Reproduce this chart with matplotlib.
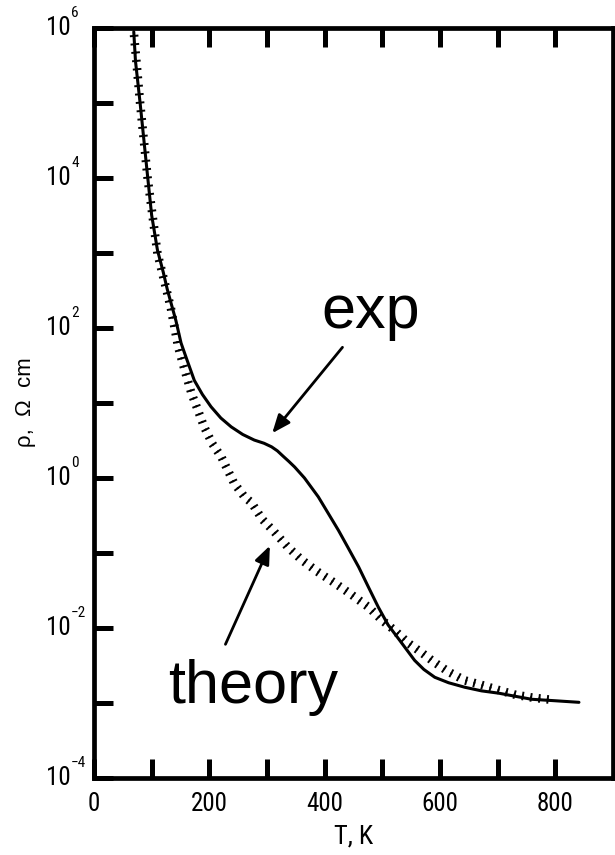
import numpy as np
import matplotlib
matplotlib.use("Agg")
import matplotlib.pyplot as plt
from matplotlib import patheffects, font_manager
from matplotlib.font_manager import FontProperties
from matplotlib.ticker import FixedLocator, NullFormatter, NullLocator

# resistivity vs temperature, measured and calculated
T_exp = [69, 72, 80, 93, 100, 110, 120, 127, 134, 142, 151, 160, 174, 188,
         203, 220, 238, 258, 278, 295, 308, 318, 328, 338, 348, 365, 389,
         405, 424, 440, 459, 476, 493, 510, 528, 556, 572, 591, 615, 643,
         672, 702, 730, 759, 800, 841]
rho_exp = [8.9e5, 3.6e5, 1.0e5, 1.05e4, 3.2e3, 1.1e3, 5.6e2, 3.3e2, 2.1e2,
           1.26e2, 63, 40, 20, 13, 8.9, 6.3, 4.8, 3.8, 3.2, 2.9, 2.6, 2.3,
           1.95, 1.66, 1.4, 1.0, 0.56, 0.35, 0.20, 0.12, 0.065, 0.035, 0.019,
           0.011, 7.2e-3, 3.7e-3, 2.8e-3, 2.2e-3, 1.86e-3, 1.62e-3, 1.45e-3,
           1.35e-3, 1.23e-3, 1.12e-3, 1.07e-3, 1.02e-3]

T_th = [69, 80, 93, 110, 121, 133, 146, 157, 169, 180, 191, 206, 221, 243,
        261, 273, 292, 313, 336, 360, 388, 417, 446, 476, 498, 521, 545, 568,
        590, 615, 643, 672, 700, 730, 760, 794]
rho_th = [8.9e5, 1.0e5, 1.0e4, 1.0e3, 4.5e2, 1.9e2, 56, 28, 13.5, 8.1, 4.8,
          2.8, 1.9, 0.85, 0.56, 0.47, 0.28, 0.19, 0.12, 0.081, 0.056, 0.040,
          0.028, 0.019, 0.013, 9.3e-3, 6.3e-3, 4.7e-3, 3.5e-3, 2.6e-3,
          2.0e-3, 1.74e-3, 1.5e-3, 1.29e-3, 1.18e-3, 1.10e-3]

xticks = [0, 100, 200, 300, 400, 500, 600, 700, 800]
xlabels = ['0', '', '200', '', '400', '', '600', '', '800']
decades = list(range(-4, 7))
labelled = [-4, -2, 0, 2, 4, 6]


def narrow_font(size):
    # prefer a condensed sans for the axis numbers
    files = font_manager.findSystemFonts() + [f.fname for f in font_manager.fontManager.ttflist]
    for key in ['LiberationSansNarrow-Regular', 'RobotoCondensed-Regular',
                'Roboto_Condensed-Regular', 'DejaVuSansCondensed.ttf',
                'OpenSans_Condensed-Regular', 'NotoSans-Condensed', 'Roboto-Regular']:
        for f in files:
            if key in f:
                return FontProperties(fname=f, size=size)
    return FontProperties(family='Liberation Sans', size=size)


fp_tick = narrow_font(18)
fp_exp = narrow_font(11)
fp_xlab = narrow_font(19)

fig = plt.figure(figsize=(6.15, 8.55), dpi=100)
ax = fig.add_axes([0.1528, 0.0901, 0.9967 - 0.1528, 0.9673 - 0.0901])

ax.plot(T_exp, rho_exp, color='black', lw=2.2, solid_capstyle='round',
        solid_joinstyle='round')
ax.plot(T_th, rho_th, color='black', lw=1.4,
        path_effects=[patheffects.TickedStroke(spacing=6.0, angle=90, length=0.4),
                      patheffects.TickedStroke(spacing=6.0, angle=-90, length=0.4)])

ax.set_yscale('log')
ax.set_xlim(0, 900)
ax.set_ylim(1e-4, 1e6)

ax.xaxis.set_major_locator(FixedLocator(xticks))
ax.set_xticklabels(xlabels)
ax.yaxis.set_major_locator(FixedLocator([10.0 ** d for d in decades]))
ax.yaxis.set_major_formatter(NullFormatter())
ax.yaxis.set_minor_locator(NullLocator())
ax.yaxis.set_minor_formatter(NullFormatter())
ax.xaxis.set_minor_locator(NullLocator())

ax.tick_params(axis='x', which='major', direction='in', length=14, width=3.6,
               top=True, bottom=True, pad=10)
ax.tick_params(axis='y', which='major', direction='in', length=14, width=3.6,
               left=True, right=False)
for lab in ax.get_xticklabels():
    lab.set_fontproperties(fp_tick)
for s in ax.spines.values():
    s.set_linewidth(3.4)

# decade labels: "10" with a small raised exponent
for d in labelled:
    ax.annotate('10', xy=(0, 10.0 ** d), xycoords=('axes fraction', 'data'),
                xytext=(-17, 0), textcoords='offset points',
                ha='right', va='center', fontproperties=fp_tick,
                annotation_clip=False)
    ax.annotate(str(d).replace('-', '\u2212'), xy=(0, 10.0 ** d),
                xycoords=('axes fraction', 'data'),
                xytext=(-16.5, 5.5), textcoords='offset points',
                ha='left', va='bottom', fontproperties=fp_exp,
                annotation_clip=False)

ax.set_xlabel('T, K', fontproperties=fp_xlab, labelpad=6)
fig.text(25 / 615, 1 - 402 / 855, 'ρ,  Ω  cm', family='Liberation Sans',
         fontsize=16, rotation=90, ha='center', va='center')

arrow = dict(arrowstyle='-|>,head_length=1.1,head_width=0.45', color='black', lw=2)
ax.annotate('', xy=(306, 3.7), xytext=(434, 59), arrowprops=arrow)
ax.annotate('', xy=(307, 0.135), xytext=(226, 5.6e-3), arrowprops=arrow)
ax.text(394, 1.0e2, 'exp', family='Liberation Sans', fontsize=44, va='baseline')
ax.text(128, 1.0e-3, 'theory', family='Liberation Sans', fontsize=44, va='baseline')

fig.savefig('out.png', dpi=100)
